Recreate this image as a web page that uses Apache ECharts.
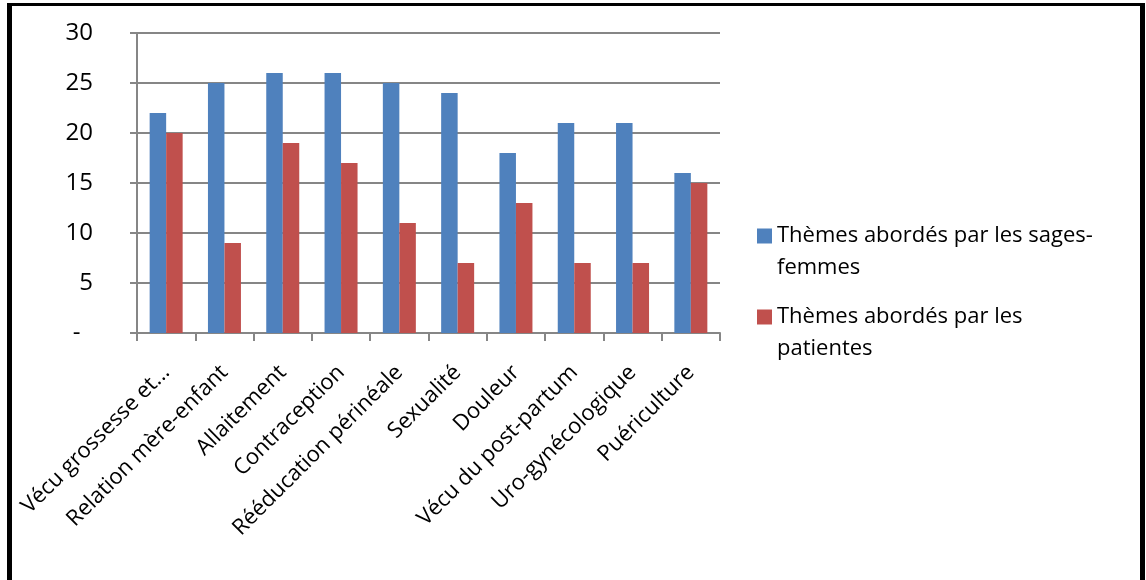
<!DOCTYPE html>
<html>
<head>
<meta charset="utf-8">
<script src="https://cdn.jsdelivr.net/npm/echarts@6/dist/echarts.min.js"></script>
<style>
	html, body { margin: 0; padding: 0; background: #fff; }
	#chart { width: 1146px; height: 580px; }
</style>
</head>
<body>
<div id="chart"></div>
<script type="text/javascript">
var categories = ['Vécu grossesse et...', 'Relation mère-enfant', 'Allaitement', 'Contraception', 'Rééducation périnéale', 'Sexualité', 'Douleur', 'Vécu du post-partum', 'Uro-gynécologique', 'Puériculture'];
var sagesFemmes = [22, 25, 26, 26, 25, 24, 18, 21, 21, 16];
var patientes = [20, 9, 19, 17, 11, 7, 13, 7, 7, 15];
var seriesNames = ['Thèmes abordés par les sages-femmes', 'Thèmes abordés par les patientes'];
// legend wraps like the original; the empty first line keeps the icon on the first text line
var legendLines = {
	'Thèmes abordés par les sages-femmes': '\nThèmes abordés par les sages-\nfemmes',
	'Thèmes abordés par les patientes': '\nThèmes abordés par les\npatientes'
};

var font = '"Open Sans", "Noto Sans", sans-serif';
var gridColor = '#868686';

var myChart = echarts.init(document.getElementById('chart'));
var option = {
	animation: false,
	textStyle: { fontFamily: font, color: '#000' },
	grid: { left: 137, top: 33, width: 583, height: 300, containLabel: false },
	legend: {
		orient: 'vertical',
		left: 757,
		top: 188,
		padding: 0,
		itemWidth: 15,
		itemHeight: 15,
		itemGap: -15,
		icon: 'rect',
		data: seriesNames,
		formatter: function(name) { return legendLines[name]; },
		textStyle: { fontFamily: font, fontSize: 22, color: '#000', lineHeight: 32 }
	},
	xAxis: [{
		type: 'category',
		data: categories,
		axisLine: { lineStyle: { color: gridColor, width: 2 } },
		axisTick: { show: true, length: 8, lineStyle: { color: gridColor, width: 2 } },
		axisLabel: { rotate: 45, interval: 0, fontSize: 22, color: '#000', fontFamily: font, margin: 36 }
	}],
	yAxis: [{
		type: 'value',
		min: 0,
		max: 30,
		interval: 5,
		axisLine: { show: true, lineStyle: { color: gridColor, width: 2 } },
		axisTick: { show: true, length: 7, lineStyle: { color: gridColor, width: 2 } },
		splitLine: { lineStyle: { color: gridColor, width: 2 } },
		axisLabel: {
			fontSize: 24, color: '#000', fontFamily: font, margin: 44,
			formatter: function(v) { return v === 0 ? '-  ' : v; }
		}
	}],
	series: [
		{
			name: seriesNames[0],
			type: 'bar',
			data: sagesFemmes,
			barWidth: 16.5,
			barGap: '0%',
			itemStyle: { color: '#4F81BD' }
		},
		{
			name: seriesNames[1],
			type: 'bar',
			data: patientes,
			barWidth: 16.5,
			barGap: '0%',
			itemStyle: { color: '#C0504D' }
		}
	],
	graphic: [
		{ type: 'rect', shape: { x: 7, y: 3, width: 1138, height: 3 }, style: { fill: '#000' } },
		{ type: 'rect', shape: { x: 7, y: 3, width: 5, height: 577 }, style: { fill: '#000' } },
		{ type: 'rect', shape: { x: 1140, y: 3, width: 5, height: 577 }, style: { fill: '#000' } }
	]
};
myChart.setOption(option);
</script>
</body>
</html>
